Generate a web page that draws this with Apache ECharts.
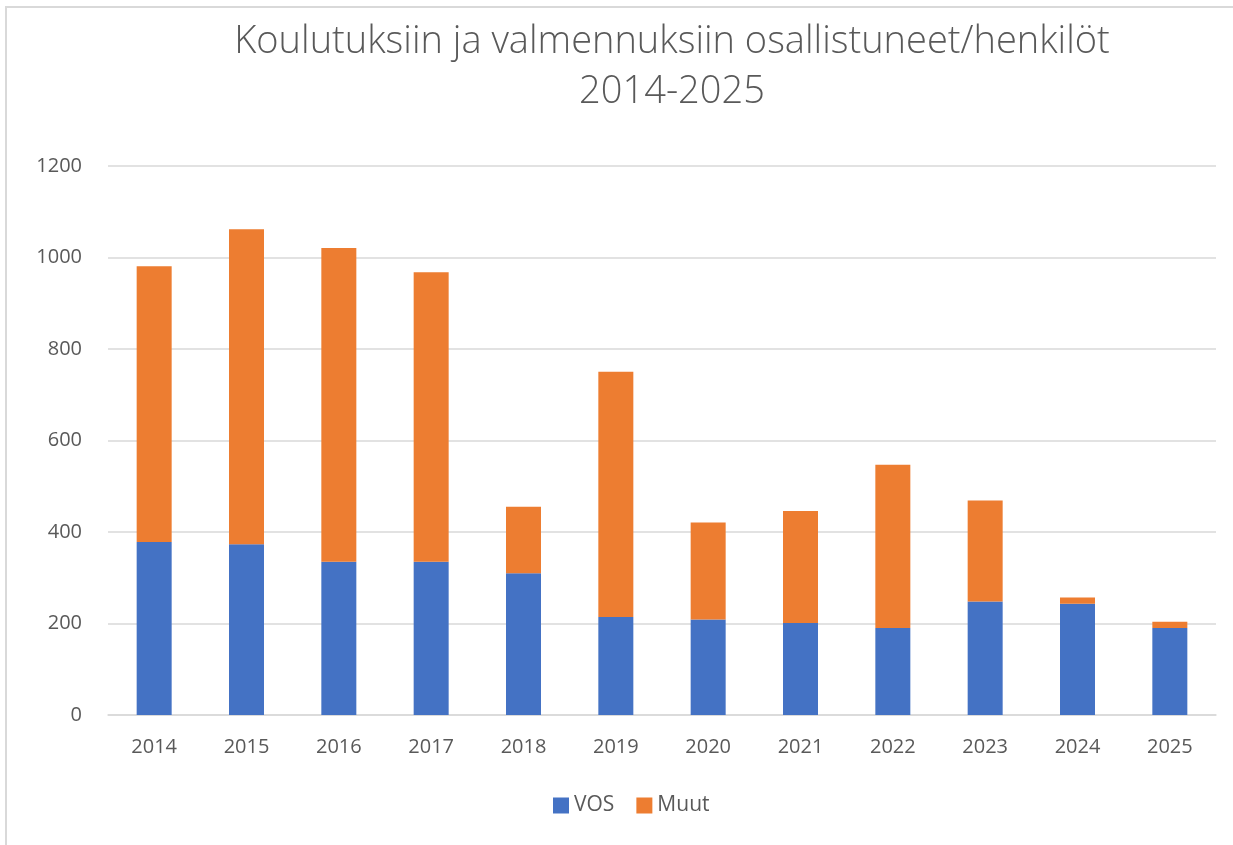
<!DOCTYPE html>
<html>
<head>
<meta charset="utf-8">
<script src="https://cdn.jsdelivr.net/npm/echarts@6/dist/echarts.min.js"></script>
<style>
  html, body { margin: 0; padding: 0; background: #fff; }
  #frame {
    position: absolute; left: 5px; top: 6px; width: 1228px; height: 839px;
    border-top: 2px solid #d9d9d9; border-left: 2px solid #d9d9d9;
    box-sizing: border-box;
  }
  #chart { position: absolute; left: 0; top: 0; width: 1233px; height: 845px; }
</style>
</head>
<body>
<div id="frame"></div>
<div id="chart"></div>
<script>
var years = ['2014','2015','2016','2017','2018','2019','2020','2021','2022','2023','2024','2025'];
var vos  = [378, 373, 335, 335, 310, 214, 209, 201, 190, 248, 243, 190];
var muut = [603, 689, 686, 633, 145, 536, 212, 245, 357, 221, 14, 14];
var yTicks = [0, 200, 400, 600, 800, 1000, 1200];

var textColor = '#595959';
var labelFont = 'Open Sans, sans-serif';
var myChart = echarts.init(document.getElementById('chart'));
var option = {
  backgroundColor: 'transparent',
  title: {
    text: 'Koulutuksiin ja valmennuksiin osallistuneet/henkilöt\n2014-2025',
    left: 667,
    top: 12,
    textAlign: 'center',
    textStyle: {
      fontFamily: 'Open Sans, sans-serif',
      fontSize: 38,
      fontWeight: 300,
      color: textColor,
      lineHeight: 50
    }
  },
  legend: {
    top: 790,
    left: 548,
    itemWidth: 16,
    itemHeight: 16,
    itemGap: 22,
    icon: 'rect',
    textStyle: { fontFamily: labelFont, fontSize: 21, color: textColor },
    data: ['VOS', 'Muut']
  },
  grid: { left: 108, right: 17, top: 166, bottom: 130, containLabel: false },
  xAxis: {
    type: 'category',
    data: years,
    axisLine: { lineStyle: { color: '#d9d9d9', width: 1.5 } },
    axisTick: { show: false },
    axisLabel: { fontFamily: labelFont, fontSize: 20, color: textColor, margin: 22 }
  },
  yAxis: {
    type: 'value',
    min: yTicks[0],
    max: yTicks[yTicks.length - 1],
    interval: 200,
    axisLine: { show: false },
    axisTick: { show: false },
    splitLine: { lineStyle: { color: '#d9d9d9', width: 1.5 } },
    axisLabel: {
      fontFamily: labelFont, fontSize: 20, color: textColor, margin: 26,
      formatter: function (v) { return String(v); }
    }
  },
  series: [
    {
      name: 'VOS', type: 'bar', stack: 'total', data: vos, barWidth: 35,
      itemStyle: { color: '#4472C4' }
    },
    {
      name: 'Muut', type: 'bar', stack: 'total', data: muut, barWidth: 35,
      itemStyle: { color: '#ED7D31' }
    }
  ]
};
option && myChart.setOption(option);
</script>
</body>
</html>
